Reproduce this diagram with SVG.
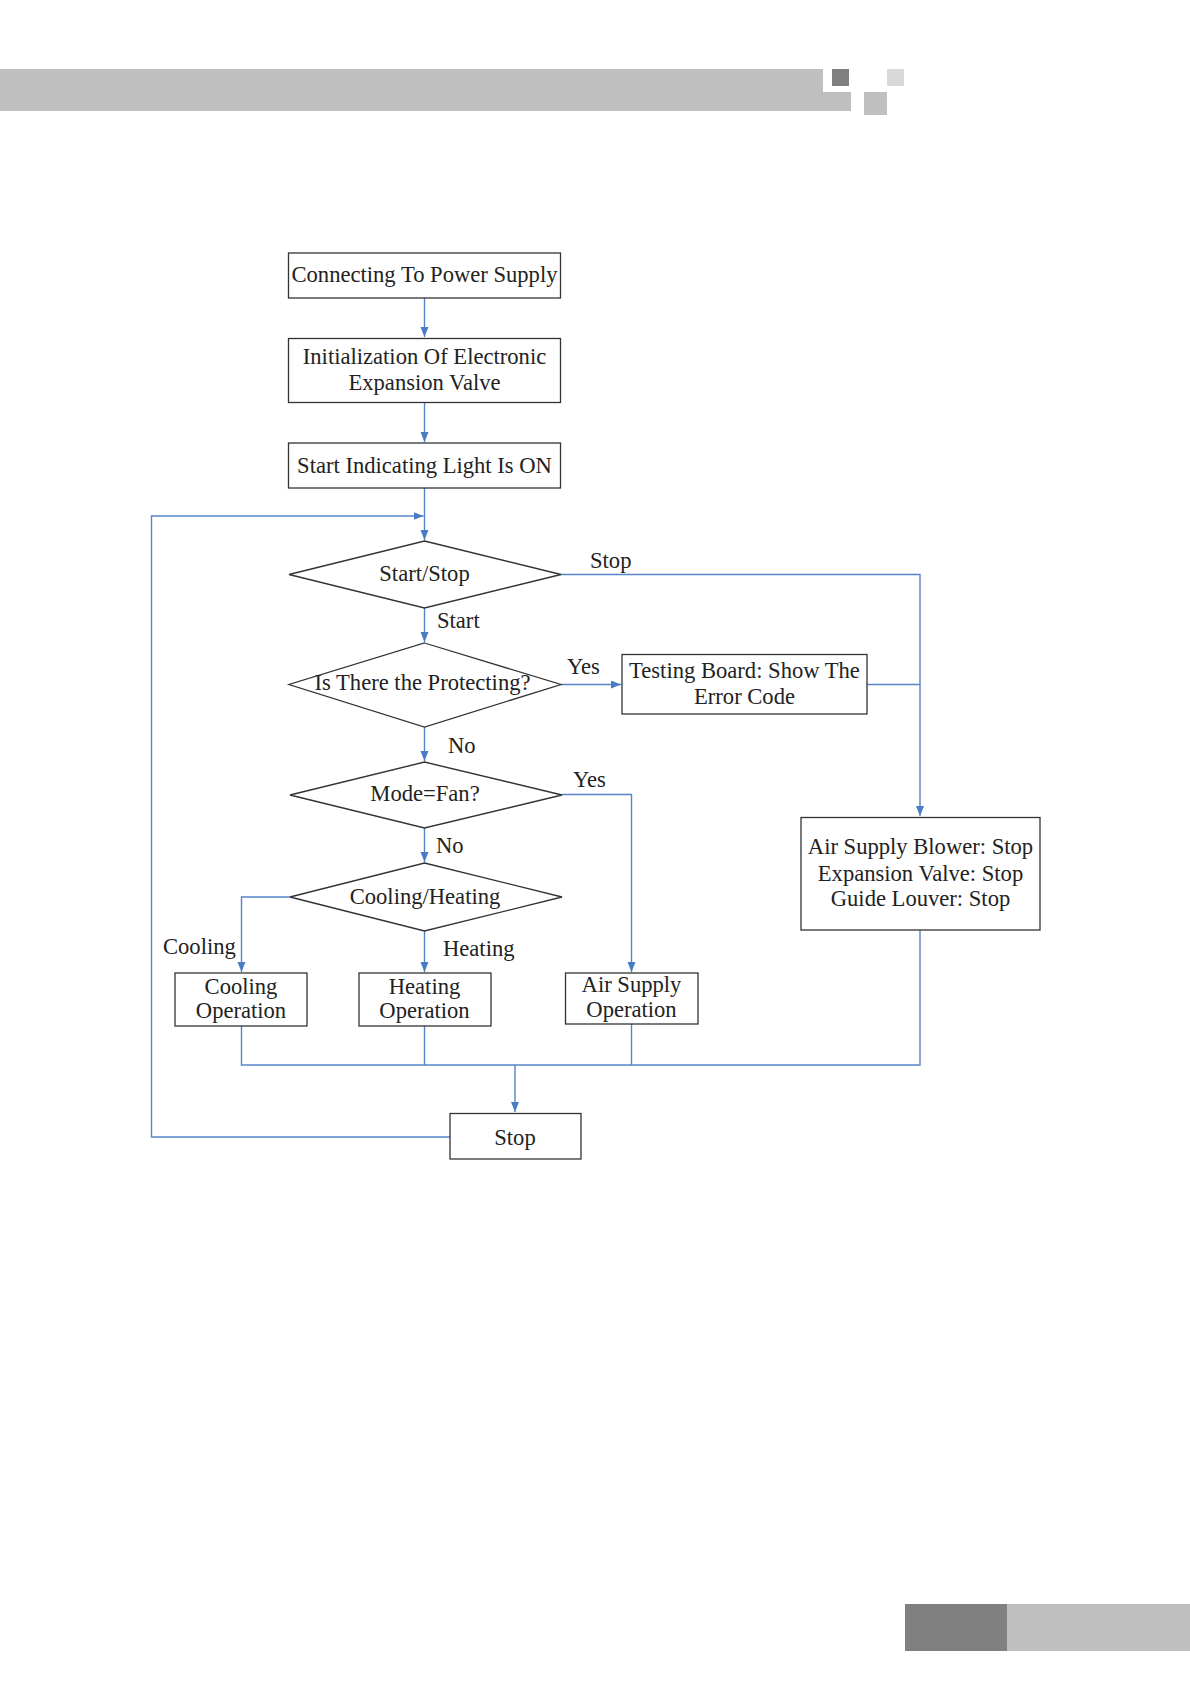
<svg xmlns="http://www.w3.org/2000/svg" width="1190" height="1684" viewBox="0 0 1190 1684">
<defs>
<style>
.box{fill:#fff;stroke:#333;stroke-width:1.3}
.con{fill:none;stroke:#5585c8;stroke-width:1.4}
text{font-family:"Liberation Serif","Times New Roman",serif;font-size:22.6px;fill:#222}
.c{text-anchor:middle}
</style>
<marker id="ah" markerUnits="userSpaceOnUse" markerWidth="11" markerHeight="9" refX="10" refY="4" orient="auto">
<path d="M0,0 L10,4 L0,8 z" fill="#4a7cc4"/>
</marker>
</defs>
<rect width="1190" height="1684" fill="#fff"/>
<g id="header">
<path d="M0,69 H823 V92 H851 V111 H0 z" fill="#bfbfbf"/>
<rect x="832" y="69" width="17" height="17" fill="#808080"/>
<rect x="887" y="69" width="17" height="17" fill="#d9d9d9"/>
<rect x="864" y="92" width="23" height="23" fill="#bfbfbf"/>
</g>
<g id="footer">
<rect x="905" y="1604" width="102" height="47" fill="#808080"/>
<rect x="1007" y="1604" width="183" height="47" fill="#bfbfbf"/>
</g>
<g id="connectors">
<path class="con" d="M424.5,298 V337" marker-end="url(#ah)"/>
<path class="con" d="M424.5,402 V442" marker-end="url(#ah)"/>
<path class="con" d="M424.5,488 V540" marker-end="url(#ah)"/>
<path class="con" d="M450,1137 H151.5 V516 H423.5" marker-end="url(#ah)"/>
<path class="con" d="M424.5,608 V642" marker-end="url(#ah)"/>
<path class="con" d="M424.5,727 V761" marker-end="url(#ah)"/>
<path class="con" d="M424.5,828 V862" marker-end="url(#ah)"/>
<path class="con" d="M424.5,931 V972" marker-end="url(#ah)"/>
<path class="con" d="M290,897 H241.5 V972" marker-end="url(#ah)"/>
<path class="con" d="M562,794.5 H631.5 V972" marker-end="url(#ah)"/>
<path class="con" d="M561,684.5 H621" marker-end="url(#ah)"/>
<path class="con" d="M561,574.5 H920 V816" marker-end="url(#ah)"/>
<path class="con" d="M867,684.5 H920"/>
<path class="con" d="M241.5,1026 V1065 H920 V930"/>
<path class="con" d="M424.5,1026 V1065"/>
<path class="con" d="M631.5,1024 V1065"/>
<path class="con" d="M515,1065 V1112" marker-end="url(#ah)"/>
</g>
<g id="n_power">
<rect class="box" x="288.5" y="253" width="272" height="45"/>
<text class="c" x="424.5" y="282">Connecting To Power Supply</text>
</g>
<g id="n_init">
<rect class="box" x="288.5" y="338.5" width="272" height="64"/>
<text class="c" x="424.5" y="363.5">Initialization Of Electronic</text>
<text class="c" x="424.5" y="390">Expansion Valve</text>
</g>
<g id="n_light">
<rect class="box" x="288.5" y="443" width="272" height="45"/>
<text class="c" x="424.5" y="472.5">Start Indicating Light Is ON</text>
</g>
<g id="n_startstop">
<polygon class="box" points="424.5,541 561,574.5 424.5,608 289,574.5"/>
<text class="c" x="424.5" y="581">Start/Stop</text>
</g>
<g id="n_protect">
<polygon class="box" points="424.5,643 561,684.5 424.5,727 289,684.5"/>
<text class="c" x="422.5" y="690">Is There the Protecting?</text>
</g>
<g id="n_modefan">
<polygon class="box" points="424.5,762 562,795 424.5,828 290,795"/>
<text class="c" x="425" y="801">Mode=Fan?</text>
</g>
<g id="n_coolheat">
<polygon class="box" points="424.5,863 562,897 424.5,931 290,897"/>
<text class="c" x="425" y="903.5">Cooling/Heating</text>
</g>
<g id="n_testing">
<rect class="box" x="622" y="654.5" width="245" height="59.5"/>
<text class="c" x="744.5" y="677.5">Testing Board: Show The</text>
<text class="c" x="744.5" y="703.5">Error Code</text>
</g>
<g id="n_blower">
<rect class="box" x="801" y="817.5" width="239" height="112.5"/>
<text class="c" x="920.5" y="854">Air Supply Blower: Stop</text>
<text class="c" x="920.5" y="880.5">Expansion Valve: Stop</text>
<text class="c" x="920.5" y="906">Guide Louver: Stop</text>
</g>
<g id="n_cooling">
<rect class="box" x="175" y="973" width="132" height="53"/>
<text class="c" x="241" y="994">Cooling</text>
<text class="c" x="241" y="1018">Operation</text>
</g>
<g id="n_heating">
<rect class="box" x="359" y="973" width="132" height="53"/>
<text class="c" x="424.5" y="994">Heating</text>
<text class="c" x="424.5" y="1018">Operation</text>
</g>
<g id="n_airsupply">
<rect class="box" x="565.5" y="973" width="132.5" height="51"/>
<text class="c" x="631.5" y="992">Air Supply</text>
<text class="c" x="631.5" y="1017">Operation</text>
</g>
<g id="n_stop">
<rect class="box" x="450" y="1113.5" width="131" height="45.5"/>
<text class="c" x="515" y="1145">Stop</text>
</g>
<g id="labels">
<text x="590" y="568">Stop</text>
<text x="437" y="628">Start</text>
<text x="567" y="673.5">Yes</text>
<text x="448" y="753">No</text>
<text x="573" y="787">Yes</text>
<text x="436" y="853">No</text>
<text x="163" y="954">Cooling</text>
<text x="443" y="956">Heating</text>
</g>
</svg>
